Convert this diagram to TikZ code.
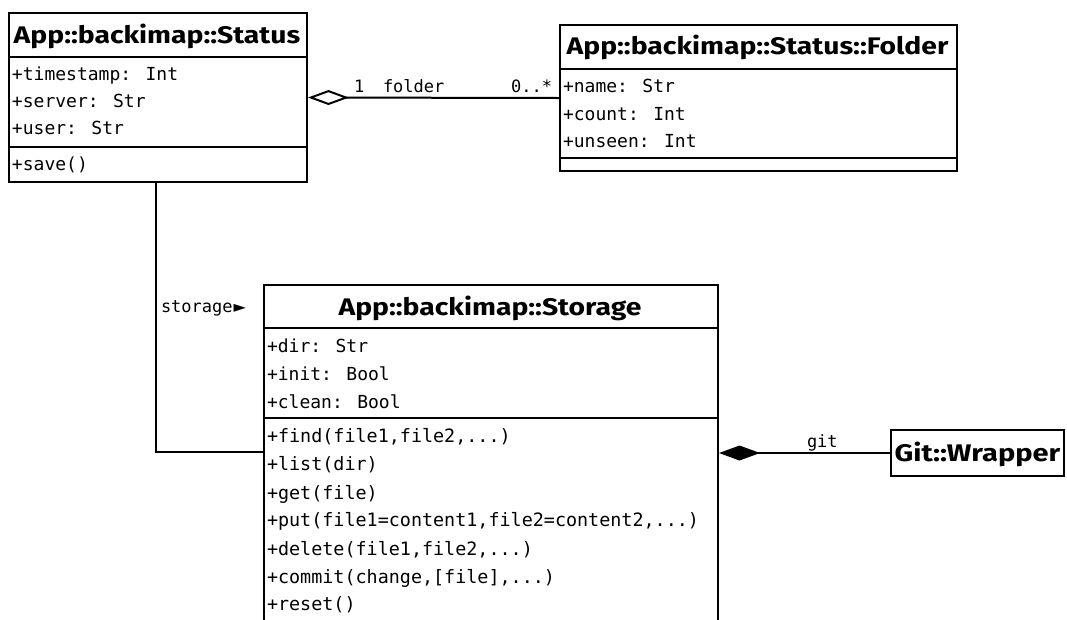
\documentclass[tikz,border=0pt]{standalone}
\usepackage{fontspec}
\setmainfont{Fira Sans}
\newfontfamily\monofont{DejaVu Sans Mono}
\newfontfamily\symfont{DejaVu Sans}
\usetikzlibrary{arrows.meta}
\newcommand{\clstitle}[2][1.18]{\scalebox{#1}[1]{#2}}
\begin{document}
\begin{tikzpicture}[x=1pt,y=-1pt,line width=2pt,
  classbox/.style={draw,line width=2pt,rectangle,anchor=north west,inner sep=0pt},
  ctitle/.style={font=\fontsize{24}{24}\selectfont\bfseries,inner sep=0pt,text height=17pt,text depth=0pt},
  attr/.style={font=\fontsize{18}{18}\monofont,anchor=west,inner sep=0pt,text height=13pt,text depth=0pt},
  meth/.style={attr,font=\fontsize{18.4}{18}\monofont},
  lbl/.style={font=\fontsize{17}{17}\monofont,inner sep=0pt,anchor=base west}]
\useasboundingbox (0,0) rectangle (1067,619);
% Status
\node[classbox,minimum width=298pt,minimum height=169pt] (status) at (8,12) {};
\node[ctitle] (statusT) at (157,35) {\clstitle{App::backimap::Status}};
\draw (status.west |- 0,57) -- (status.east |- 0,57);
\draw (status.west |- 0,147) -- (status.east |- 0,147);
\node[attr] (s1) at (11,74) {+timestamp: Int};
\node[attr] (s2) at (11,101) {+server: Str};
\node[attr] (s3) at (11,128) {+user: Str};
\node[attr] (s4) at (11,164) {+save()};
% Folder
\node[classbox,minimum width=397pt,minimum height=146pt] (folder) at (559,24) {};
\node[ctitle] (folderT) at (757.5,46) {\clstitle{App::backimap::Status::Folder}};
\draw (folder.west |- 0,69) -- (folder.east |- 0,69);
\draw (folder.west |- 0,158) -- (folder.east |- 0,158);
\node[attr] (f1) at (562,86) {+name: Str};
\node[attr] (f2) at (562,114) {+count: Int};
\node[attr] (f3) at (562,141) {+unseen: Int};
% Storage
\node[classbox,minimum width=454pt,minimum height=360pt] (storage) at (263,284) {};
\node[ctitle] (storageT) at (490,307) {\clstitle{App::backimap::Storage}};
\draw (storage.west |- 0,328) -- (storage.east |- 0,328);
\draw (storage.west |- 0,418) -- (storage.east |- 0,418);
\node[attr] (a1) at (266,346) {+dir: Str};
\node[attr] (a2) at (266,374) {+init: Bool};
\node[attr] (a3) at (266,402) {+clean: Bool};
\node[meth] (m1) at (266,436) {+find(file1,file2,...)};
\node[meth] (m2) at (266,464) {+list(dir)};
\node[meth] (m3) at (266,493) {+get(file)};
\node[meth] (m4) at (266,520) {+put(file1=content1,file2=content2,...)};
\node[meth] (m5) at (266,549) {+delete(file1,file2,...)};
\node[meth] (m6) at (266,577) {+commit(change,[file],...)};
\node[meth] (m7) at (266,604) {+reset()};
% Git::Wrapper
\node[classbox,ctitle,minimum width=173pt,minimum height=46pt,anchor=north west] (gitw) at (890,429) {\clstitle[1.21]{Git::Wrapper}};
% connectors
\draw[{Diamond[open,length=41pt,width=15pt]}-] (status.east) -- (folder.west);
\node[lbl] (l1) at (353,92) {1};
\node[lbl] (l2) at (382,92) {folder};
\node[lbl,anchor=base east] (l3) at (553,92) {0..*};
\coordinate (sj) at ([xshift=-2pt]status.south);
\draw (sj) |- (storage.west |- 0,452);
\node[lbl] (l4) at (160,312) {storage\kern1pt{\symfont\fontsize{16}{16}\selectfont ►}};
\draw[{Diamond[length=41pt,width=15pt]}-] (storage.east |- gitw.west) -- (gitw.west);
\node[lbl] (l5) at (806,447) {git};
\end{tikzpicture}
\end{document}
